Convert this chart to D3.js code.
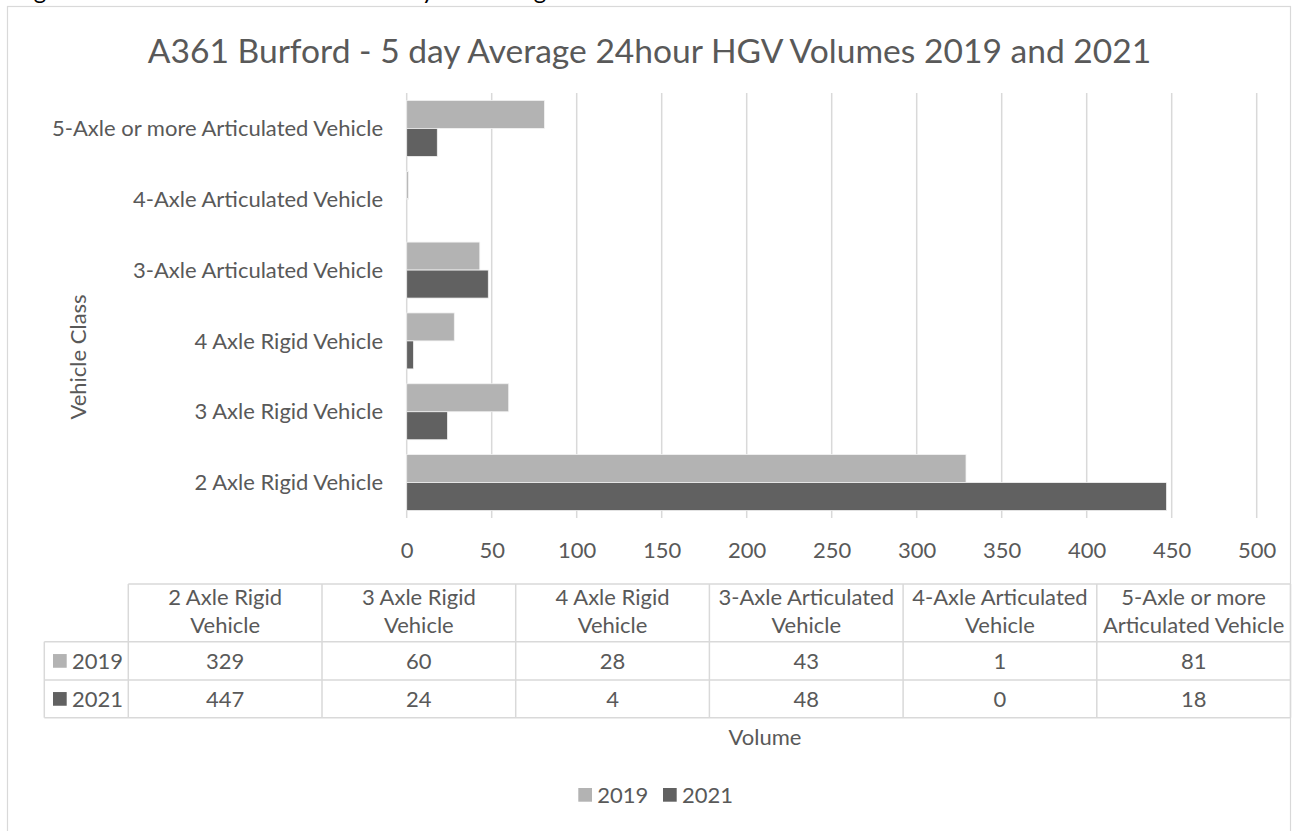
<!DOCTYPE html>
<html>
<head>
<meta charset="utf-8">
<script src="https://cdn.jsdelivr.net/npm/d3@7"></script>
<style>
  body { margin: 0; background: #fff; }
  text { font-family: Lato, "Open Sans", sans-serif; fill: #595959; }
</style>
</head>
<body>
<div id="chart"></div>
<script>
// Chart data
var categories = [
  "5-Axle or more Articulated Vehicle",
  "4-Axle Articulated Vehicle",
  "3-Axle Articulated Vehicle",
  "4 Axle Rigid Vehicle",
  "3 Axle Rigid Vehicle",
  "2 Axle Rigid Vehicle"
];
var values2019 = [81, 1, 43, 28, 60, 329];
var values2021 = [18, 0, 48, 4, 24, 447];
var seriesNames = ["2019", "2021"];
var xTicks = [0, 50, 100, 150, 200, 250, 300, 350, 400, 450, 500];

// Data table columns (in table order) and header lines
var tableOrder = [5, 4, 3, 2, 1, 0];
var tableHeaders = [
  ["2 Axle Rigid", "Vehicle"],
  ["3 Axle Rigid", "Vehicle"],
  ["4 Axle Rigid", "Vehicle"],
  ["3-Axle Articulated", "Vehicle"],
  ["4-Axle Articulated", "Vehicle"],
  ["5-Axle or more", "Articulated Vehicle"]
];

// cut-off caption descenders above the chart box
var captionBits = [{ch: "g", x: 40}, {ch: "y", x: 428}, {ch: "g", x: 540}];

var colors = { "2019": "#b3b3b3", "2021": "#616161" };
var gridColor = "#d9d9d9";

var svgWidth = 1298;
var svgHeight = 831;

var svg = d3.select("#chart")
  .append("svg")
  .attr("width", svgWidth)
  .attr("height", svgHeight);

// caption remnants
svg.selectAll(".caption")
  .data(captionBits)
  .enter()
  .append("text")
  .attr("class", "caption")
  .attr("x", d => d.x)
  .attr("y", -1)
  .attr("text-anchor", "middle")
  .style("fill", "#000")
  .style("font-size", "24px")
  .text(d => d.ch);

// chart outline (bottom runs off the page)
svg.append("rect")
  .attr("x", 7.5)
  .attr("y", 6.5)
  .attr("width", 1283)
  .attr("height", 900)
  .attr("fill", "#fff")
  .attr("stroke", gridColor)
  .attr("stroke-width", 1.2);

// Title
svg.append("text")
  .attr("x", 649.5)
  .attr("y", 63)
  .attr("text-anchor", "middle")
  .style("font-size", "33.6px")
  .text("A361 Burford - 5 day Average 24hour HGV Volumes 2019 and 2021");

// Scales
var plotLeft = 406.7, plotRight = 1256.7, plotTop = 93, plotBottom = 518;

var xScale = d3.scaleLinear()
  .domain([0, 500])
  .range([plotLeft, plotRight]);

var yScale = d3.scaleBand()
  .domain(categories)
  .range([plotTop, plotBottom])
  .padding(0);

var ySub = d3.scaleBand()
  .domain(seriesNames)
  .range([0, yScale.bandwidth()])
  .paddingInner(0)
  .paddingOuter(0.265);

// Gridlines
svg.append("g")
  .selectAll("line")
  .data(xTicks)
  .enter()
  .append("line")
  .attr("x1", d => xScale(d))
  .attr("x2", d => xScale(d))
  .attr("y1", plotTop)
  .attr("y2", plotBottom)
  .attr("stroke", gridColor)
  .attr("stroke-width", 1.5);

// X axis labels
var bottomAxis = d3.axisBottom(xScale).tickValues(xTicks).tickSize(0).tickPadding(0);
var xAxisG = svg.append("g")
  .attr("transform", `translate(0, ${plotBottom})`)
  .call(bottomAxis);
xAxisG.select(".domain").remove();
xAxisG.selectAll("text")
  .attr("y", 40)
  .attr("dy", null)
  .style("font-size", "22px")
  .style("font-family", "Lato, sans-serif")
  .attr("fill", "#595959");

// Y axis labels
var leftAxis = d3.axisLeft(yScale).tickSize(0).tickPadding(0);
var yAxisG = svg.append("g")
  .attr("transform", `translate(383, 0)`)
  .call(leftAxis);
yAxisG.select(".domain").remove();
yAxisG.selectAll("text")
  .attr("x", 0)
  .attr("dy", "0.35em")
  .style("font-size", "22px")
  .style("font-family", "Lato, sans-serif")
  .attr("fill", "#595959");

// Bars
var barData = [];
categories.forEach(function(c, i) {
  barData.push({cat: c, series: "2019", value: values2019[i]});
  barData.push({cat: c, series: "2021", value: values2021[i]});
});

svg.append("g")
  .selectAll("rect")
  .data(barData)
  .enter()
  .append("rect")
  .attr("x", xScale(0))
  .attr("y", d => yScale(d.cat) + ySub(d.series))
  .attr("width", d => xScale(d.value) - xScale(0))
  .attr("height", ySub.bandwidth())
  .attr("fill", d => colors[d.series])
  .attr("stroke", d => d.value > 0 ? "#f2f2f2" : "none")
  .attr("stroke-width", 0.8);

// Y axis title
svg.append("text")
  .attr("transform", "translate(78, 357) rotate(-90)")
  .attr("text-anchor", "middle")
  .attr("dy", "0.35em")
  .style("font-size", "22px")
  .text("Vehicle Class");

// Data table
var tableLeft = 128.3, tableRight = 1290.5;
var colScale = d3.scaleBand()
  .domain(d3.range(6))
  .range([tableLeft, tableRight]);
var rowEdges = [584, 641.7, 680, 717.7];
var rowHeadLeft = 44.3;

var table = svg.append("g");

// horizontal lines
table.selectAll(".hline")
  .data(rowEdges)
  .enter()
  .append("line")
  .attr("x1", (d, i) => i < 1 ? tableLeft : rowHeadLeft)
  .attr("x2", tableRight)
  .attr("y1", d => d)
  .attr("y2", d => d)
  .attr("stroke", gridColor)
  .attr("stroke-width", 1.5);

// vertical lines
var vEdges = d3.range(7).map(i => i < 6 ? colScale(i) : tableRight);
table.selectAll(".vline")
  .data(vEdges)
  .enter()
  .append("line")
  .attr("x1", d => d)
  .attr("x2", d => d)
  .attr("y1", rowEdges[0])
  .attr("y2", rowEdges[3])
  .attr("stroke", gridColor)
  .attr("stroke-width", 1.5);

table.append("line")
  .attr("x1", rowHeadLeft).attr("x2", rowHeadLeft)
  .attr("y1", rowEdges[1]).attr("y2", rowEdges[3])
  .attr("stroke", gridColor)
  .attr("stroke-width", 1.5);

// header text
tableHeaders.forEach(function(lines, i) {
  lines.forEach(function(line, j) {
    table.append("text")
      .attr("x", colScale(i) + colScale.bandwidth() / 2)
      .attr("y", 605 + j * 28)
      .attr("text-anchor", "middle")
      .style("font-size", "22px")
      .text(line);
  });
});

// value rows
var tableRows = [
  {name: "2019", values: values2019},
  {name: "2021", values: values2021}
];
tableRows.forEach(function(row, r) {
  var mid = (rowEdges[r + 1] + rowEdges[r + 2]) / 2;
  table.append("rect")
    .attr("x", 53)
    .attr("y", mid - 6.8)
    .attr("width", 13.7)
    .attr("height", 13.7)
    .attr("fill", colors[row.name]);
  table.append("text")
    .attr("x", 72)
    .attr("y", mid)
    .attr("dy", "0.35em")
    .style("font-size", "22px")
    .text(row.name);
  tableOrder.forEach(function(ci, i) {
    table.append("text")
      .attr("x", colScale(i) + colScale.bandwidth() / 2)
      .attr("y", mid)
      .attr("dy", "0.35em")
      .attr("text-anchor", "middle")
      .style("font-size", "22px")
      .text(row.values[ci]);
  });
});

// X axis title
svg.append("text")
  .attr("x", 765)
  .attr("y", 737)
  .attr("dy", "0.35em")
  .attr("text-anchor", "middle")
  .style("font-size", "22px")
  .text("Volume");

// Legend
var legendItems = [{name: "2019", x: 578.3}, {name: "2021", x: 663}];
var legend = svg.append("g");
legend.selectAll("rect")
  .data(legendItems)
  .enter()
  .append("rect")
  .attr("x", d => d.x)
  .attr("y", 788)
  .attr("width", 13.7)
  .attr("height", 13.7)
  .attr("fill", d => colors[d.name]);
legend.selectAll("text")
  .data(legendItems)
  .enter()
  .append("text")
  .attr("x", d => d.x + 19)
  .attr("y", 795)
  .attr("dy", "0.35em")
  .style("font-size", "22px")
  .text(d => d.name);
</script>
</body>
</html>
